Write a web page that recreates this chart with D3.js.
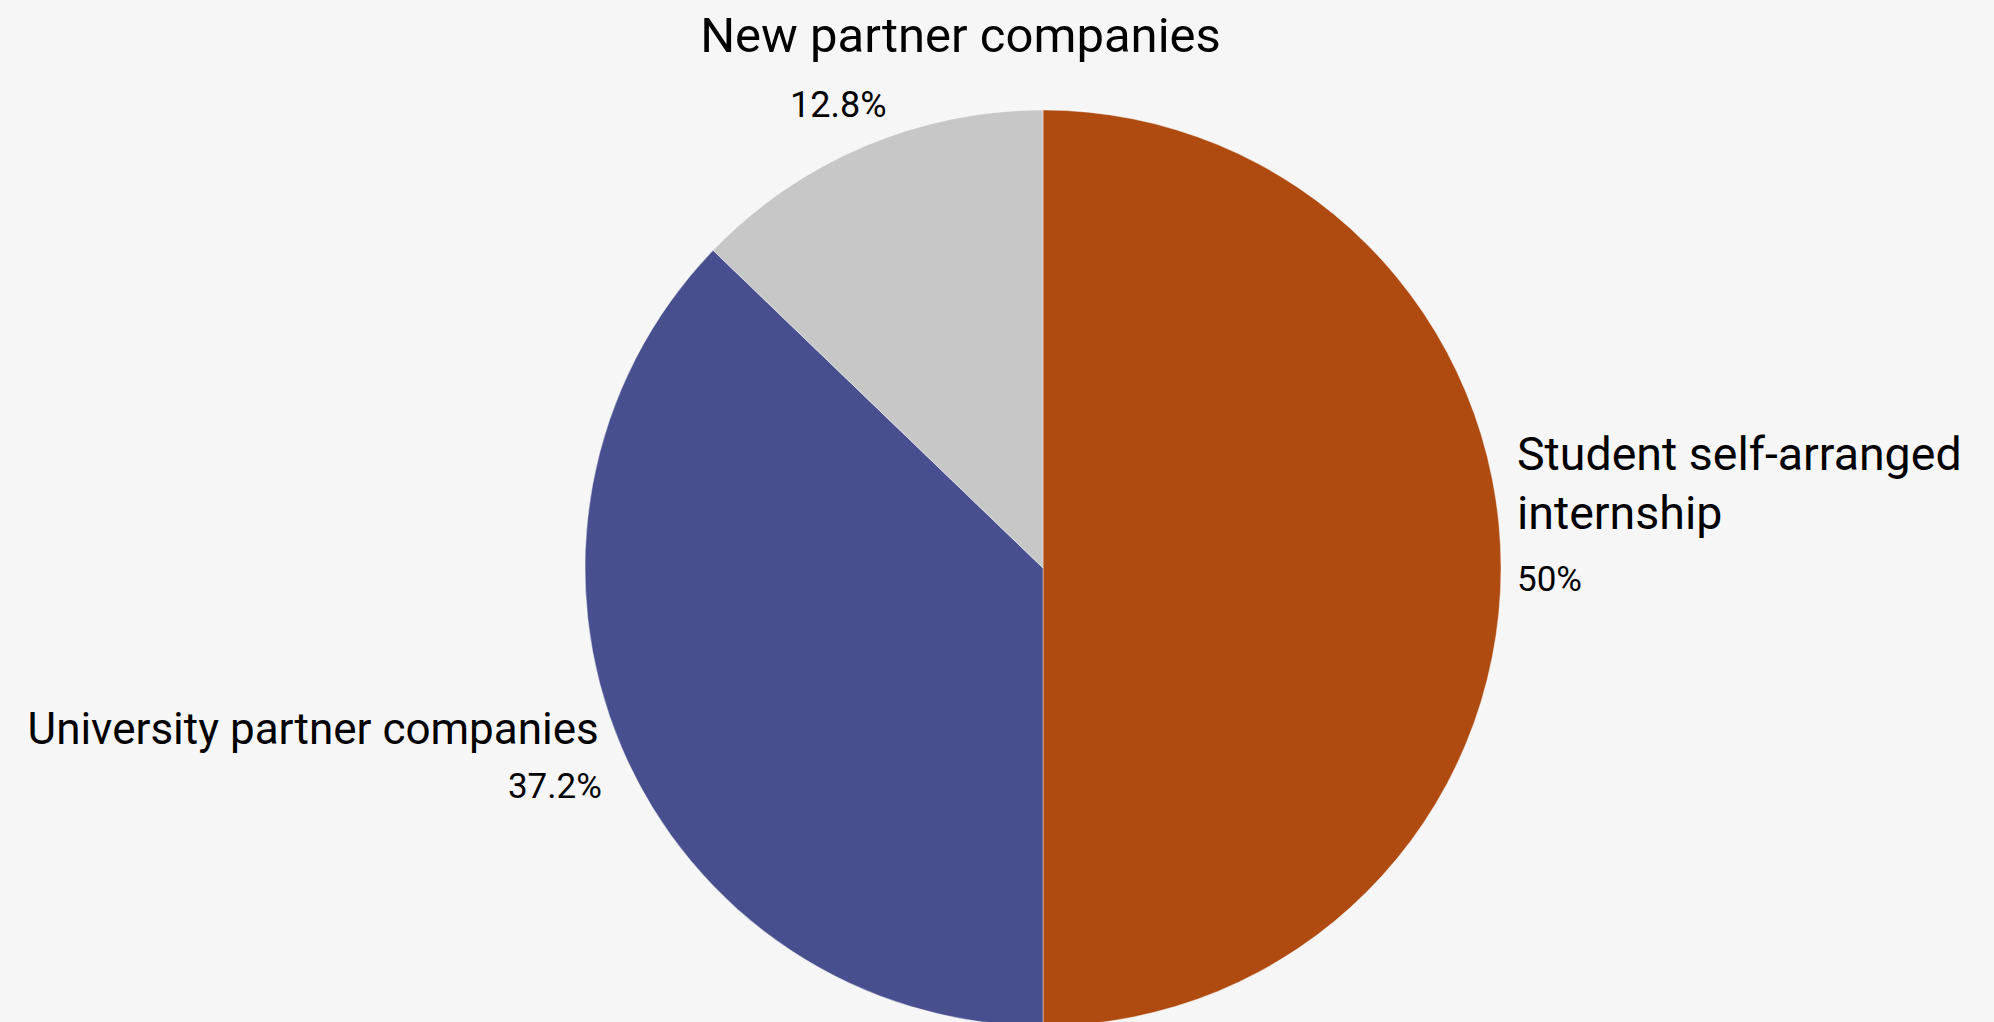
<!DOCTYPE html>
<html>
<head>
<meta charset="utf-8">
<script src="https://cdn.jsdelivr.net/npm/d3@7"></script>
<style>
  html, body { margin: 0; padding: 0; background: #f6f6f6; }
  svg { display: block; font-family: Roboto, "Noto Sans", sans-serif; }
</style>
</head>
<body>
<svg width="1994" height="1022"></svg>
<script>
// data
var categories = ["Student self-arranged internship", "University partner companies", "New partner companies"];
var shares = [50, 37.2, 12.8];
var shareLabels = ["50%", "37.2%", "12.8%"];
var colors = ["#af4b11", "#484f8f", "#c7c7c7"];

function main() {
    var svg = d3.select("svg"),
        cx = 1043,
        cy = 568,
        radius = 458;

    var data = categories.map(function(c, i) {
        return { name: c, value: shares[i], label: shareLabels[i], color: colors[i] };
    });

    var pie = d3.pie().sort(null).value(function(d) { return d.value; });
    var arc = d3.arc().innerRadius(0).outerRadius(radius);
    var outer = d3.arc().innerRadius(radius + 16).outerRadius(radius + 16);

    var g = svg.append("g")
        .attr("transform", "translate(" + cx + "," + cy + ")");

    var arcs = pie(data);

    g.selectAll(".slice")
        .data(arcs)
        .enter()
        .append("path")
        .attr("class", "slice")
        .attr("d", arc)
        .attr("fill", function(d) { return d.data.color; })
        .attr("stroke", "#ffffff")
        .attr("stroke-opacity", 0.4)
        .attr("stroke-width", 1);

    // label layout: offsets relative to the point just outside each slice's mid angle
    var layout = [
        { anchor: "start", size: 46.5, nameDx: 0, nameDy: -98, lines: ["Student self-arranged", "internship"], valDx: 0, valDy: 23, valSize: 35 },
        { anchor: "end", size: 44, nameDx: -8, nameDy: -10, lines: ["University partner companies"], valDx: -5, valDy: 44, valSize: 35 },
        { anchor: "middle", size: 49, nameDx: 103, nameDy: -80, lines: ["New partner companies"], valDx: 29, valDy: -15, valSize: 36, valAnchor: "end" }
    ];

    var labels = g.selectAll(".label")
        .data(arcs)
        .enter()
        .append("g")
        .attr("class", "label");

    labels.each(function(d, i) {
        var p = outer.centroid(d),
            L = layout[i],
            sel = d3.select(this);

        var name = sel.append("text")
            .attr("x", p[0] + L.nameDx)
            .attr("y", p[1] + L.nameDy)
            .attr("text-anchor", L.anchor)
            .attr("font-size", L.size + "px")
            .attr("fill", "#000");
        L.lines.forEach(function(line, k) {
            name.append("tspan")
                .attr("x", p[0] + L.nameDx)
                .attr("dy", k === 0 ? 0 : 59)
                .text(line);
        });

        sel.append("text")
            .attr("x", p[0] + L.valDx)
            .attr("y", p[1] + L.valDy)
            .attr("text-anchor", L.valAnchor || L.anchor)
            .attr("font-size", L.valSize + "px")
            .attr("fill", "#000")
            .text(d.data.label);
    });
}
main();
</script>
</body>
</html>
